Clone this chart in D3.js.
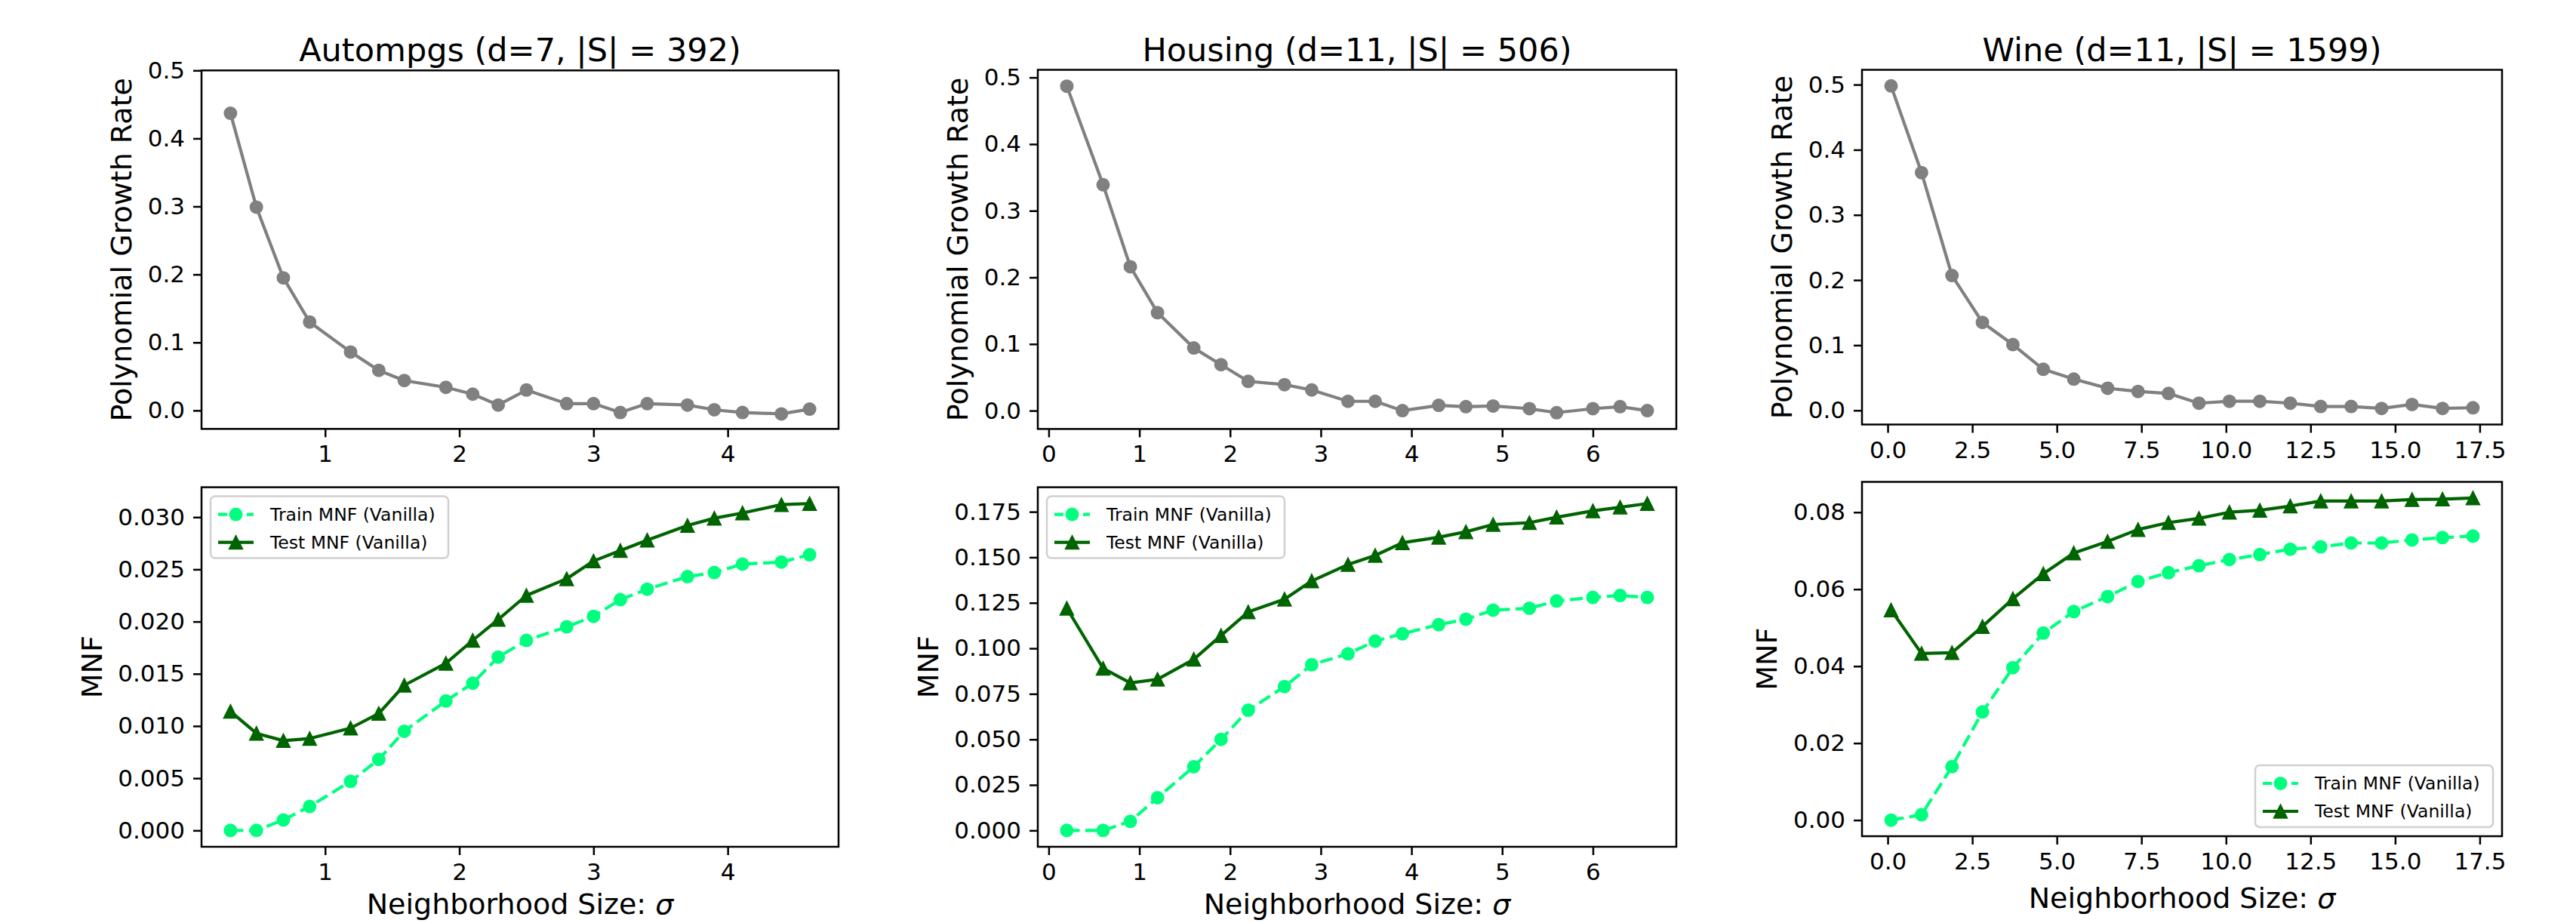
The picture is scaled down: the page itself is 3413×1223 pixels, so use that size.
<!DOCTYPE html>
<html>
<head>
<meta charset="utf-8">
<script src="https://cdn.jsdelivr.net/npm/d3@7"></script>
<style>
body { margin: 0; background: #fff; }
text { font-family: 'DejaVu Sans', sans-serif; }
</style>
</head>
<body>
<script>
// values
const autoSigma = [0.295, 0.488, 0.689, 0.885, 1.19, 1.40, 1.59, 1.90, 2.10, 2.29, 2.50, 2.80, 3.0, 3.2, 3.4, 3.7, 3.9, 4.11, 4.40, 4.61]
const autoGrowth = [0.437, 0.299, 0.195, 0.130, 0.086, 0.059, 0.044, 0.034, 0.024, 0.008, 0.030, 0.010, 0.010, -0.003, 0.010, 0.008, 0.001, -0.003, -0.005, 0.002]
const autoTrain = [0.0000, 0.0000, 0.0010, 0.0023, 0.0047, 0.0068, 0.0095, 0.0124, 0.0141, 0.0166, 0.0182, 0.0195, 0.0205, 0.0221, 0.0231, 0.0243, 0.0247, 0.0255, 0.0257, 0.0264]
const autoTest = [0.0114, 0.0093, 0.0086, 0.0088, 0.0098, 0.0112, 0.0139, 0.0160, 0.0182, 0.0202, 0.0225, 0.0241, 0.0258, 0.0268, 0.0278, 0.0292, 0.0299, 0.0304, 0.0312, 0.0313]

const houseSigma = [0.2, 0.6, 0.9, 1.2, 1.6, 1.9, 2.2, 2.6, 2.9, 3.3, 3.6, 3.9, 4.3, 4.6, 4.9, 5.3, 5.6, 6.0, 6.3, 6.6]
const houseGrowth = [0.487, 0.339, 0.216, 0.147, 0.094, 0.069, 0.044, 0.039, 0.031, 0.014, 0.014, 0.000, 0.008, 0.006, 0.007, 0.003, -0.003, 0.003, 0.006, 0.000]
const houseTrain = [0.000, 0.000, 0.005, 0.018, 0.035, 0.050, 0.066, 0.079, 0.091, 0.097, 0.104, 0.108, 0.113, 0.116, 0.121, 0.122, 0.126, 0.128, 0.129, 0.128]
const houseTest = [0.122, 0.089, 0.081, 0.083, 0.094, 0.107, 0.120, 0.127, 0.137, 0.146, 0.151, 0.158, 0.161, 0.164, 0.168, 0.169, 0.172, 0.1755, 0.1775, 0.1795]

const wineSigma = [0.1, 1.0, 1.9, 2.8, 3.7, 4.6, 5.5, 6.5, 7.4, 8.3, 9.2, 10.1, 11.0, 11.9, 12.8, 13.7, 14.6, 15.5, 16.4, 17.3]
const wineGrowth = [0.498, 0.365, 0.207, 0.135, 0.101, 0.063, 0.048, 0.034, 0.029, 0.026, 0.011, 0.014, 0.014, 0.011, 0.006, 0.006, 0.003, 0.009, 0.003, 0.004]
const wineTrain = [0.0000, 0.0014, 0.0139, 0.0281, 0.0396, 0.0486, 0.0542, 0.0581, 0.0620, 0.0643, 0.0661, 0.0677, 0.0690, 0.0704, 0.0710, 0.0720, 0.0720, 0.0728, 0.0734, 0.0738]
const wineTest = [0.0546, 0.0433, 0.0435, 0.0503, 0.0575, 0.0640, 0.0694, 0.0724, 0.0755, 0.0773, 0.0784, 0.0800, 0.0805, 0.0816, 0.0829, 0.0829, 0.0829, 0.0833, 0.0834, 0.0837]

const titles = ['Autompgs (d=7, |S| = 392)', 'Housing (d=11, |S| = 506)', 'Wine (d=11, |S| = 1599)']
const legendLabels = ['Train MNF (Vanilla)', 'Test MNF (Vanilla)']

// tick labels
const autoXTicks = [1, 2, 3, 4]
const houseXTicks = [0, 1, 2, 3, 4, 5, 6]
const wineXTicks = [0, 2.5, 5, 7.5, 10, 12.5, 15, 17.5]
const growthTicks = [0, 0.1, 0.2, 0.3, 0.4, 0.5]
const autoMnfTicks = [0, 0.005, 0.01, 0.015, 0.02, 0.025, 0.03]
const houseMnfTicks = [0, 0.025, 0.05, 0.075, 0.1, 0.125, 0.15, 0.175]
const wineMnfTicks = [0, 0.02, 0.04, 0.06, 0.08]

const width = 3413
const height = 1223

const gray = '#808080'
const trainColor = '#00ff7f'
const testColor = '#006400'

const svg = d3.select('body')
	.append('svg')
	.attr('width', width)
	.attr('height', height)

// matplotlib style autoscale: 5% margin on each side
function pad(vals) {
	const [lo, hi] = d3.extent(vals)
	const m = (hi - lo) * 0.05
	return [lo - m, hi + m]
}

const triangle = 'M0,-9L9,9L-9,9Z'

function drawSeries(g, x, y, xs, ys, color, opt) {
	const pts = xs.map((v, i) => [v, ys[i]])
	const line = d3.line().x(d => x(d[0])).y(d => y(d[1]))
	g.append('path')
		.attr('d', line(pts))
		.attr('fill', 'none')
		.attr('stroke', color)
		.attr('stroke-width', 4.2)
		.attr('stroke-dasharray', opt.dashed ? '17,7.5' : null)
		.attr('stroke-linejoin', 'round')
	if (opt.marker === 'tri') {
		g.selectAll(null).data(pts).enter()
			.append('path')
			.attr('d', triangle)
			.attr('transform', d => `translate(${x(d[0])},${y(d[1])})`)
			.attr('fill', color)
			.attr('stroke', color)
			.attr('stroke-width', 1.5)
	} else {
		g.selectAll(null).data(pts).enter()
			.append('circle')
			.attr('cx', d => x(d[0]))
			.attr('cy', d => y(d[1]))
			.attr('r', 8)
			.attr('fill', color)
			.attr('stroke', color)
			.attr('stroke-width', 2)
	}
}

function legend(g, bx, by) {
	const w = 315, h = 82
	g.append('rect')
		.attr('x', bx).attr('y', by)
		.attr('width', w).attr('height', h)
		.attr('rx', 6)
		.attr('fill', '#fff').attr('fill-opacity', 0.8)
		.attr('stroke', '#d0d0d0').attr('stroke-width', 2.5)
	const rows = [
		{ label: legendLabels[0], color: trainColor, dashed: true, marker: 'circle' },
		{ label: legendLabels[1], color: testColor, dashed: false, marker: 'tri' }
	]
	rows.forEach((r, i) => {
		const cy = by + 24 + i * 37
		g.append('line')
			.attr('x1', bx + 10).attr('x2', bx + 57)
			.attr('y1', cy).attr('y2', cy)
			.attr('stroke', r.color).attr('stroke-width', 4.2)
			.attr('stroke-dasharray', r.dashed ? '12,7' : null)
		if (r.marker === 'tri') {
			g.append('path').attr('d', triangle)
				.attr('transform', `translate(${bx + 33.5},${cy})`)
				.attr('fill', r.color).attr('stroke', r.color).attr('stroke-width', 1.5)
		} else {
			g.append('circle').attr('cx', bx + 33.5).attr('cy', cy).attr('r', 8)
				.attr('fill', r.color).attr('stroke', r.color).attr('stroke-width', 2)
		}
		g.append('text')
			.attr('x', bx + 79).attr('y', cy)
			.attr('dy', '0.36em')
			.attr('font-size', 23.5)
			.attr('fill', '#000')
			.text(r.label)
	})
}

function panel(box, xs, series, o) {
	const g = svg.append('g')
	const x = d3.scaleLinear().domain(pad(xs)).range([box.l, box.r])
	const yd = pad(series.flatMap(s => s.values))
	if (o.yMax != null) yd[1] = o.yMax
	const y = d3.scaleLinear().domain(yd).range([box.b, box.t])

	const xa = g.append('g')
		.attr('transform', `translate(0,${box.b})`)
		.call(d3.axisBottom(x).tickValues(o.xTicks).tickFormat(o.xFmt).tickSize(11).tickPadding(11))
	const ya = g.append('g')
		.attr('transform', `translate(${box.l},0)`)
		.call(d3.axisLeft(y).tickValues(o.yTicks).tickFormat(o.yFmt).tickSize(11).tickPadding(11))
	;[xa, ya].forEach(a => {
		a.select('.domain').remove()
		a.attr('font-family', null).attr('font-size', 31)
		a.selectAll('line').attr('stroke', '#000').attr('stroke-width', 2.5)
		a.selectAll('text').attr('fill', '#000')
	})

	series.forEach(s => drawSeries(g, x, y, xs, s.values, s.color, s))

	g.append('rect')
		.attr('x', box.l).attr('y', box.t)
		.attr('width', box.r - box.l).attr('height', box.b - box.t)
		.attr('fill', 'none').attr('stroke', '#000').attr('stroke-width', 2.5)

	const cx = (box.l + box.r) / 2
	const cy = (box.t + box.b) / 2
	if (o.title) {
		g.append('text')
			.attr('x', cx).attr('y', box.t - 12)
			.attr('text-anchor', 'middle')
			.attr('font-size', 43)
			.text(o.title)
	}
	const maxW = d3.max(ya.selectAll('text').nodes(), n => n.getComputedTextLength())
	const lx = box.l - 22 - maxW - 12.5 - 9
	g.append('text')
		.attr('transform', `translate(${lx},${cy}) rotate(-90)`)
		.attr('text-anchor', 'middle')
		.attr('font-size', 38)
		.text(o.ylabel)
	if (o.xlabel) {
		// kept a few px higher than the reference so the descenders stay inside the page
		const t = g.append('text')
			.attr('x', cx).attr('y', Math.min(box.b + 95, height - 12))
			.attr('text-anchor', 'middle')
			.attr('font-size', 38)
		t.append('tspan').text('Neighborhood Size: ')
		t.append('tspan').attr('font-style', 'italic').text('σ')
	}
	if (o.legend === 'ul') legend(g, box.l + 12, box.t + 12)
	if (o.legend === 'lr') legend(g, box.r - 12 - 315, box.b - 12 - 82)
}

const topBoxes = [
	{ l: 267, t: 93.3, r: 1111, b: 568.3 },
	{ l: 1375, t: 92.5, r: 2221, b: 568.4 },
	{ l: 2467, t: 92.5, r: 3315, b: 562.5 }
]
const botBoxes = [
	{ l: 267, t: 645.6, r: 1111, b: 1122 },
	{ l: 1375, t: 645.6, r: 2221, b: 1122 },
	{ l: 2467, t: 638.5, r: 3315, b: 1108 }
]

const sigmas = [autoSigma, houseSigma, wineSigma]
const growths = [autoGrowth, houseGrowth, wineGrowth]
const trains = [autoTrain, houseTrain, wineTrain]
const tests = [autoTest, houseTest, wineTest]
const xTicks = [autoXTicks, houseXTicks, wineXTicks]
const xFmts = [d3.format('d'), d3.format('d'), d3.format('.1f')]
const mnfTicks = [autoMnfTicks, houseMnfTicks, wineMnfTicks]
const mnfFmts = [d3.format('.3f'), d3.format('.3f'), d3.format('.2f')]
const legendPos = ['ul', 'ul', 'lr']

for (let i = 0; i < 3; i++) {
	panel(topBoxes[i], sigmas[i], [{ values: growths[i], color: gray }], {
		title: titles[i],
		xTicks: xTicks[i], xFmt: xFmts[i],
		yTicks: growthTicks, yFmt: d3.format('.1f'),
		ylabel: 'Polynomial Growth Rate',
		yMax: i === 0 ? 0.5 : null
	})
	panel(botBoxes[i], sigmas[i], [
		{ values: trains[i], color: trainColor, dashed: true },
		{ values: tests[i], color: testColor, marker: 'tri' }
	], {
		xTicks: xTicks[i], xFmt: xFmts[i],
		yTicks: mnfTicks[i], yFmt: mnfFmts[i],
		ylabel: 'MNF', xlabel: true,
		legend: legendPos[i]
	})
}
</script>
</body>
</html>
